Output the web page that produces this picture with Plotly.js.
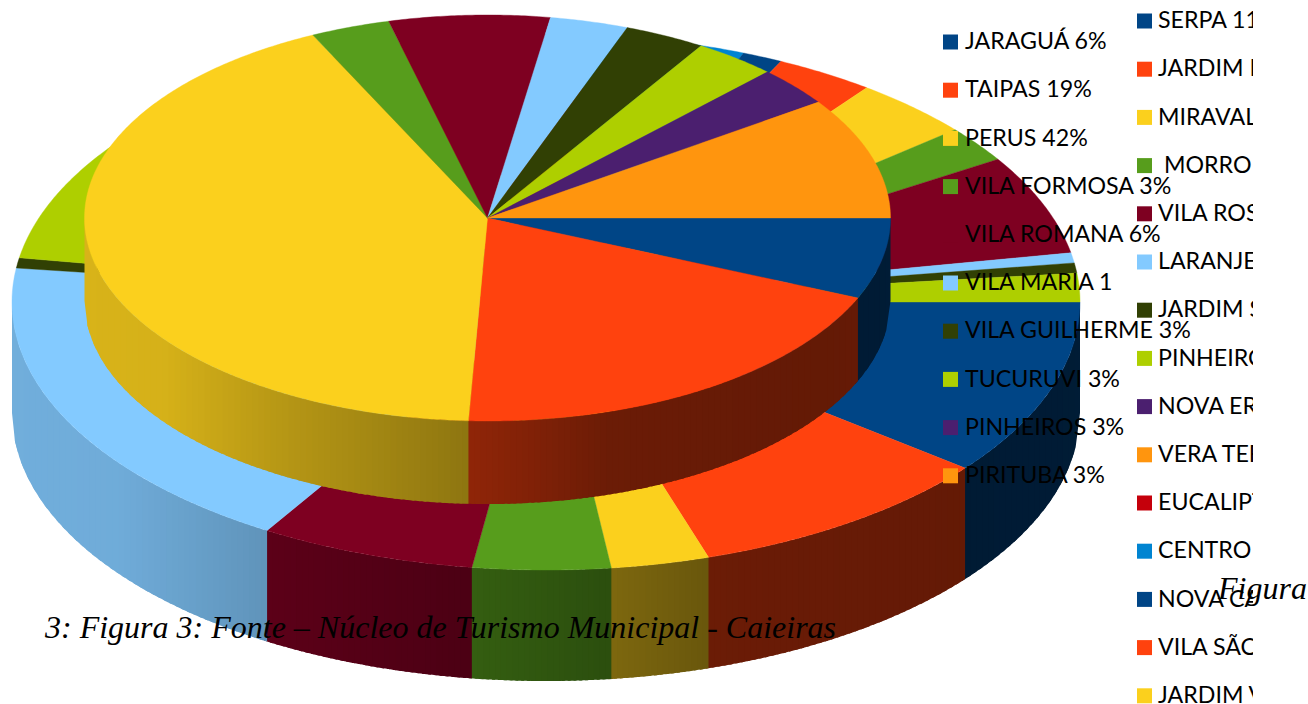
<!DOCTYPE html>
<html>
<head>
<meta charset="utf-8">
<script src="https://cdn.plot.ly/plotly-3.0.1.min.js"></script>
<style>html,body{margin:0;padding:0;background:#fff;overflow:hidden}#chart{width:1308px;height:704px}</style>
</head>
<body>
<div id="chart"></div>
<script>
// Slice shares (percent), clockwise from the right-hand edge
var upperValues = [6.44, 19.31, 42.11, 3.19, 6.44, 3.14, 3.25, 3.33, 3.11, 9.67];
var lowerValues = [10.64, 9.44, 2.97, 4.17, 6.53, 18.28, 0.61, 9.86, 4.17, 5.56, 4.17, 4.64, 1.22, 3.0, 3.64, 2.17, 6.0, 0.61, 0.61, 1.72];
var palette = ['#004586','#ff420e','#fbd01d','#579d1c','#7e0021','#83caff','#314004','#aecf00','#4b1f6f','#ff950e','#c5000b','#0084d1'];

var upperLabels = ['JARAGUÁ 6%','TAIPAS 19%','PERUS 42%','VILA FORMOSA 3%','VILA ROMANA 6%','VILA MARIA 1','VILA GUILHERME 3%','TUCURUVI 3%','PINHEIROS 3%','PIRITUBA 3%'];
var lowerLabels = ['SERPA 11%','JARDIM I','MIRAVAL','&#160;MORRO','VILA ROS','LARANJE','JARDIM S','PINHEIRO','NOVA ER','VERA TER','EUCALIPT','CENTRO','NOVA CA','VILA SÃO','JARDIM V'];
var captionLeft = '3: Figura 3: Fonte – Núcleo de Turismo Municipal - Caieiras';
var captionRight = 'Figura';

// Geometry of the two discs (axis units are pixels)
var upperDisc = {cx:487.5, cy:218, rx:403, ry:203, depth:83};
var lowerDisc = {cx:546, cy:302, rx:534, ry:268, depth:111};
var PLOT_W = 1253;
var BAND_PX = 6;
var BAND_OVERLAP = 3;

function shadeFactor(u){
  var xs=[-1,-0.8,-0.52,-0.14,0.12,0.3,0.8,1], fs=[0.86,0.85,0.73,0.6,0.5,0.42,0.39,0.4];
  for(var i=1;i<xs.length;i++){ if(u<=xs[i]){ var k=(u-xs[i-1])/(xs[i]-xs[i-1]); return fs[i-1]+k*(fs[i]-fs[i-1]); } }
  return fs[fs.length-1];
}
function shade(hex,f){
  var r=parseInt(hex.substr(1,2),16),g=parseInt(hex.substr(3,2),16),b=parseInt(hex.substr(5,2),16);
  return 'rgb('+Math.round(r*f)+','+Math.round(g*f)+','+Math.round(b*f)+')';
}
function poly(xs,ys,color,lw){
  return {type:'scatter',mode:'lines',x:xs,y:ys,fill:'toself',fillcolor:color,
    line:{color:color,width:lw,simplify:false},hoverinfo:'skip',showlegend:false,cliponaxis:false};
}
function bounds(values){
  var sum=values.reduce(function(a,b){return a+b},0),acc=0,out=[0];
  values.forEach(function(v){acc+=v;out.push(acc/sum*360)});
  return out;
}
function rimY(d,x){
  return d.cy+d.ry*Math.sqrt(Math.max(0,1-Math.pow((x-d.cx)/d.rx,2)));
}
function wallTraces(d,values){
  // Bands are painted right to left; each one runs a little under the next so no seam shows.
  var b=bounds(values),tr=[];
  for(var i=0;i<values.length;i++){
    var a0=b[i],a1=Math.min(b[i+1],180);
    if(a0>=180) break;
    var col=palette[i%palette.length];
    var xStart=d.cx+d.rx*Math.cos(a0*Math.PI/180),xEnd=d.cx+d.rx*Math.cos(a1*Math.PI/180);
    var n=Math.max(1,Math.ceil((xStart-xEnd)/BAND_PX));
    for(var k=0;k<n;k++){
      var x0=xStart+(xEnd-xStart)*k/n;
      var xc=xStart+(xEnd-xStart)*(k+1)/n;
      var x1=Math.max(d.cx-d.rx,xc-BAND_OVERLAP);
      var xm=(x0+x1)/2;
      var xs=[x0,xm,x1,x1,xm,x0,x0];
      var ys=[rimY(d,x0),rimY(d,xm),rimY(d,x1),rimY(d,x1)+d.depth,rimY(d,xm)+d.depth,rimY(d,x0)+d.depth,rimY(d,x0)];
      tr.push(poly(xs,ys,shade(col,shadeFactor(((x0+xc)/2-d.cx)/d.rx)),0));
    }
  }
  return tr;
}
function topTraces(d,values){
  var b=bounds(values),tr=[];
  for(var i=0;i<values.length;i++){
    var xs=[d.cx],ys=[d.cy];
    for(var t=b[i];t<b[i+1];t+=0.5){
      xs.push(d.cx+d.rx*Math.cos(t*Math.PI/180));ys.push(d.cy+d.ry*Math.sin(t*Math.PI/180));
    }
    xs.push(d.cx+d.rx*Math.cos(b[i+1]*Math.PI/180));ys.push(d.cy+d.ry*Math.sin(b[i+1]*Math.PI/180));
    xs.push(d.cx);ys.push(d.cy);
    tr.push(poly(xs,ys,palette[i%palette.length],0.4));
  }
  return tr;
}
function legendTrace(labels,markerX,textX,firstY,stepY){
  var ys=labels.map(function(_,i){return firstY+i*stepY});
  return [
    {type:'scatter',mode:'markers',x:labels.map(function(){return markerX}),y:ys,
     marker:{symbol:'square',size:15,color:labels.map(function(_,i){return palette[i%palette.length]})},
     hoverinfo:'skip',showlegend:false,cliponaxis:true},
    {type:'scatter',mode:'text',x:labels.map(function(){return textX}),y:ys.map(function(y){return y+1.5}),text:labels,textposition:'middle right',
     textfont:{family:'Lato, "Open Sans", sans-serif',size:23.2,color:'#000'},hoverinfo:'skip',showlegend:false,cliponaxis:true}
  ];
}

var traces=[].concat(
  wallTraces(lowerDisc,lowerValues),
  topTraces(lowerDisc,lowerValues),
  wallTraces(upperDisc,upperValues),
  topTraces(upperDisc,upperValues),
  legendTrace(upperLabels,950.5,965,42,48.2),
  legendTrace(lowerLabels,1144.5,1158,21,48.2)
);

var layout={
  width:1308,height:704,autosize:false,showlegend:false,
  margin:{l:0,r:0,t:0,b:0,pad:0},paper_bgcolor:'#fff',plot_bgcolor:'#fff',
  xaxis:{domain:[0,PLOT_W/1308],range:[0,PLOT_W],visible:false,fixedrange:true},
  yaxis:{domain:[0,1],range:[704,0],visible:false,fixedrange:true},
  annotations:[
    {xref:'paper',yref:'paper',x:42/1308,y:1-627/704,xanchor:'left',yanchor:'middle',showarrow:false,text:'<i>'+captionLeft+'</i>',
     font:{family:'"Liberation Serif", serif',size:32,color:'#000'}},
    {xref:'paper',yref:'paper',x:1215/1308,y:1-588/704,xanchor:'left',yanchor:'middle',showarrow:false,text:'<i>'+captionRight+'</i>',
     font:{family:'"Liberation Serif", serif',size:32,color:'#000'}}
  ]
};
Plotly.newPlot('chart',traces,layout,{displayModeBar:false,staticPlot:true});
</script>
</body>
</html>
